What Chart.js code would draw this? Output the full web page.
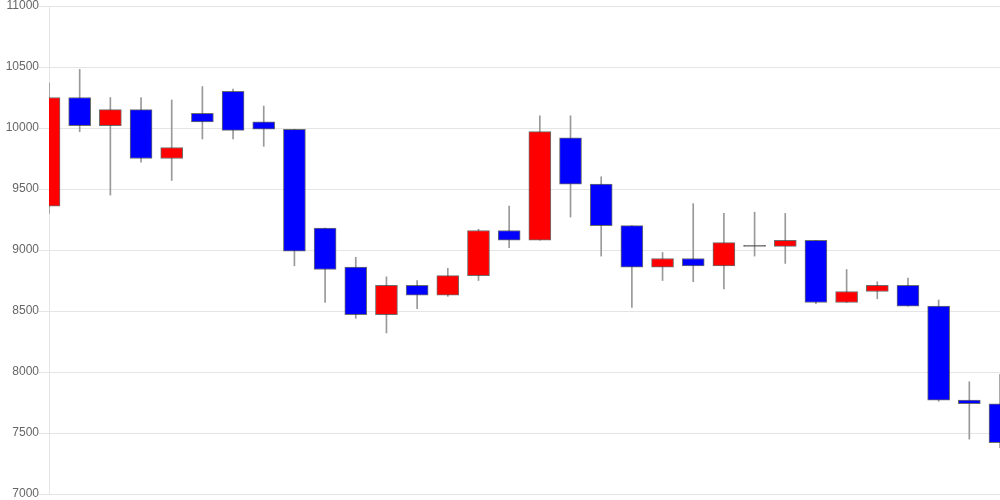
<!DOCTYPE html>
<html>
<head>
<meta charset="utf-8">
<script src="https://cdn.jsdelivr.net/npm/chart.js@4/dist/chart.umd.min.js"></script>
<style>
  html, body { margin: 0; padding: 0; background: #fff; }
  #wrap { width: 1000px; height: 500px; }
</style>
</head>
<body>
<div id="wrap"><canvas id="chart" width="1000" height="500"></canvas></div>
<script>
// daily candles
var days = [];
for (let i = 1; i <= 32; i++) days.push(String(i));

var opens  = [9360,10250,10020,10150,9750,10120,10300,10050,9990,9180,8860,8470,8710,8630,8790,9160,
              9080,9920,9540,9200,8860,8930,8870,9030,9030,9080,8570,8660,8710,8540,7770,7740];
var closes = [10250,10020,10150,9750,9840,10050,9980,9990,8990,8840,8470,8710,8630,8790,9160,9080,
              9970,9540,9200,8860,8930,8870,9060,9030,9080,8570,8660,8710,8540,7770,7740,7420];
var highs  = [10370,10480,10250,10250,10230,10340,10320,10180,9990,9180,8940,8780,8750,8850,9170,9360,
              10100,10100,9600,9200,8980,9380,9300,9310,9300,9080,8840,8740,8770,8590,7920,7980];
var lows   = [9300,9970,9450,9720,9570,9910,9910,9850,8870,8570,8440,8320,8520,8620,8750,9020,
              9080,9270,8950,8530,8750,8740,8680,8950,8890,8560,8570,8600,8540,7760,7450,7380];

var yTicks = [7000, 7500, 8000, 8500, 9000, 9500, 10000, 10500, 11000];

var bodies = [];
var wicks = [];
var colors = [];
for (let i = 0; i < days.length; i++) {
    bodies.push([opens[i], closes[i]]);
    wicks.push([lows[i], highs[i]]);
    if (closes[i] > opens[i]) colors.push('#ff0000');
    else if (closes[i] < opens[i]) colors.push('#0000ff');
    else colors.push('#555555');
}

var ctx = document.getElementById('chart');
var candle_chart = new Chart(ctx, {
    type: 'bar',
    data: {
        labels: days,
        datasets: [{
            label: 'body',
            data: bodies,
            backgroundColor: colors,
            borderColor: 'rgba(60,60,60,0.75)',
            borderWidth: 1,
            borderSkipped: false,
            barThickness: 22,
            minBarLength: 1,
            grouped: false,
            order: 0
        }, {
            label: 'wick',
            data: wicks,
            backgroundColor: '#999999',
            borderWidth: 0,
            barThickness: 1,
            grouped: false,
            order: 1
        }]
    },
    options: {
        responsive: false,
        animation: false,
        layout: { padding: 0 },
        plugins: {
            legend: { display: false },
            tooltip: { enabled: false }
        },
        scales: {
            x: {
                display: false,
                offset: false
            },
            y: {
                min: 7000,
                max: 11000,
                afterBuildTicks: function(scale) {
                    scale.ticks = yTicks.map(v => ({ value: v }));
                },
                afterFit: function(scale) { scale.width = 49; },
                ticks: {
                    color: '#666',
                    font: { family: 'Liberation Sans, Arial', size: 12, lineHeight: 1 },
                    padding: 0,
                    callback: function(v) { return String(v); }
                },
                grid: { color: 'rgba(0,0,0,0.1)', drawTicks: true, tickLength: 10 },
                border: { color: 'rgba(0,0,0,0.1)' }
            }
        }
    }
});
</script>
</body>
</html>
